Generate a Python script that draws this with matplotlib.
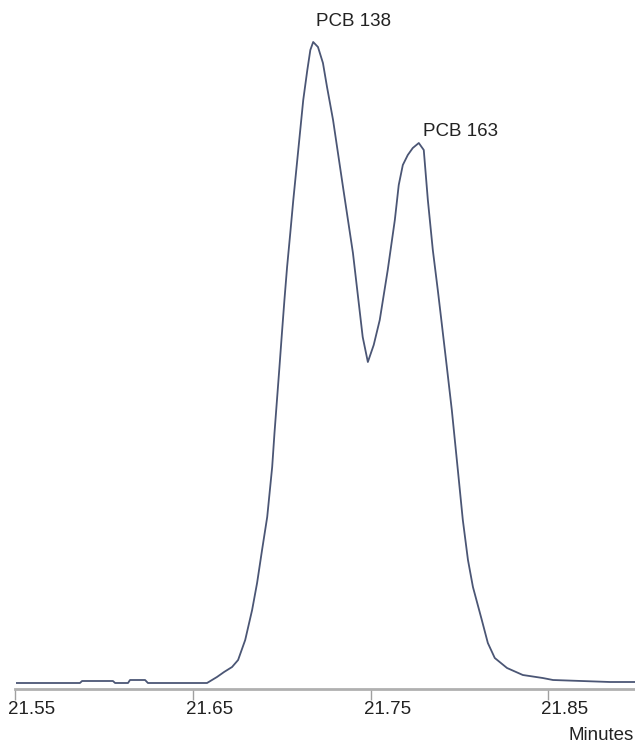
import matplotlib
matplotlib.use("Agg")
import matplotlib.pyplot as plt
import matplotlib.transforms as mtransforms

# retention time (min) and detector response
time_min = [21.550, 21.5863, 21.5875, 21.6049, 21.6061, 21.6134, 21.6145, 21.6230,
            21.6246, 21.6579, 21.6635, 21.6675, 21.6720, 21.6754, 21.6794, 21.6833,
            21.6861, 21.6889, 21.6918, 21.6946, 21.6959, 21.6973, 21.6987, 21.7001,
            21.7015, 21.7030, 21.7048, 21.7065, 21.7093, 21.7121, 21.7144, 21.7161,
            21.7177, 21.7204, 21.7232, 21.7255, 21.7289, 21.7345, 21.7401, 21.7456,
            21.7485, 21.7518, 21.7552, 21.7597, 21.7637, 21.7659, 21.7682, 21.7710,
            21.7738, 21.7772, 21.7800, 21.7823, 21.7851, 21.7879, 21.7897, 21.7930,
            21.7958, 21.7992, 21.8020, 21.8049, 21.8077, 21.8127, 21.8161, 21.8200,
            21.8269, 21.8358, 21.8470, 21.8528, 21.8849, 21.8990]
response = [0, 0, 2, 2, 0, 0, 3, 3,
            0, 0, 6, 11, 16, 23, 43, 73,
            100, 133, 166, 216, 250, 283, 316, 350,
            383, 416, 450, 483, 533, 583, 613, 633,
            641, 636, 620, 596, 563, 496, 430, 346,
            321, 338, 363, 413, 463, 498, 518, 528,
            535, 540, 533, 483, 433, 393, 366, 316,
            273, 213, 163, 123, 96, 63, 40, 25,
            15, 8, 5, 3, 1, 1]

tick_vals = [21.55, 21.65, 21.75, 21.85]
tick_labels = ["21.55", "21.65", "21.75", "21.85"]
peak_names = ["PCB 138", "PCB 163"]
peak_times = [21.7177, 21.7772]
peak_heights = [641, 540]

plt.rcParams['font.family'] = ['Liberation Sans', 'DejaVu Sans']

fig = plt.figure(figsize=(6.35, 7.46), dpi=100)
ax = fig.add_axes([15.5/635, 57/746, 1 - 15.5/635, 689/746])

ax.plot(time_min, response, color='#4b5675', lw=1.3, solid_joinstyle='round')

ax.set_xlim(21.55, 21.899)
ax.set_ylim(-6, 683)

for s in ['top', 'right', 'left']:
    ax.spines[s].set_visible(False)
ax.spines['bottom'].set_color('#b0b0b0')
ax.spines['bottom'].set_linewidth(2)
ax.set_yticks([])
ax.set_xticks(tick_vals)
ax.set_xticklabels(tick_labels, fontsize=13.5, color='#222222')
ax.tick_params(axis='x', length=8, width=1, color='#a0a0a0', pad=1)
offset = mtransforms.ScaledTranslation(-7/100, 0, fig.dpi_scale_trans)
for lab in ax.get_xticklabels():
    lab.set_horizontalalignment('left')
    lab.set_transform(lab.get_transform() + offset)

offsets = [(2, 9), (3, 2)]
for name, t, h, off in zip(peak_names, peak_times, peak_heights, offsets):
    ax.annotate(name, (t, h), xytext=off, textcoords='offset points',
                ha='left', va='bottom', fontsize=13.5, color='#222222')

fig.text(634/635, 1 - 735/746, "Minutes", ha='right', va='center',
         fontsize=13.5, color='#222222')

fig.savefig("out.png", dpi=100)
